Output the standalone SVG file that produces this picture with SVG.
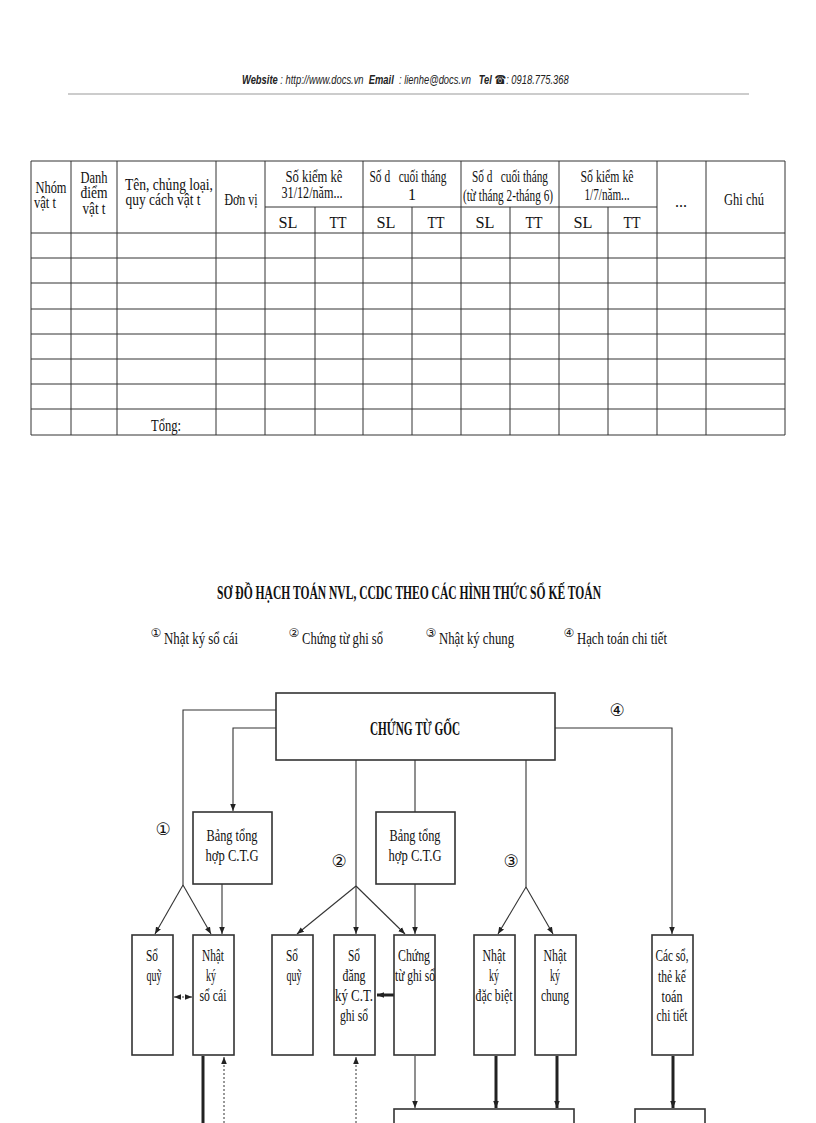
<svg xmlns="http://www.w3.org/2000/svg" width="816" height="1123" viewBox="0 0 816 1123">
<defs>
<style>
text{font-family:"Liberation Serif","DejaVu Serif",serif;fill:#111}
.hd{font-family:"Liberation Sans","DejaVu Sans",sans-serif;font-size:12.5px;font-style:italic;fill:#222}
.hb{font-weight:bold}
.t{font-size:16px;text-anchor:middle}
.b{font-size:17px;text-anchor:middle}
.num{font-family:"DejaVu Sans",sans-serif}
.grid line{stroke:#333;stroke-width:1}
.box{fill:#fff;stroke:#333;stroke-width:1.6}
.ln{fill:none;stroke:#333;stroke-width:1.1}
.thk{fill:none;stroke:#222;stroke-width:3}
.dot{fill:none;stroke:#333;stroke-width:1;stroke-dasharray:2,2}
</style>
<marker id="ah" viewBox="0 0 10 10" refX="10" refY="5" markerWidth="7" markerHeight="7" markerUnits="userSpaceOnUse" orient="auto-start-reverse"><path d="M0,1 L10,5 L0,9 z" fill="#222"/></marker>
</defs>

<g id="header">
<text class="hd" transform="translate(242,84) scale(0.75,1)" x="0" y="0" xml:space="preserve"><tspan class="hb">Website</tspan> : http://www.docs.vn  <tspan class="hb">Email</tspan>  : lienhe@docs.vn   <tspan class="hb">Tel </tspan><tspan class="hb" font-family="DejaVu Sans">☎</tspan>: 0918.775.368</text>
<line x1="68" y1="94" x2="749" y2="94" stroke="#999" stroke-width="1.2"/>
</g>

<g id="table">
<g class="grid">
<line x1="31" y1="161" x2="785" y2="161"/>
<line x1="265" y1="207" x2="657" y2="207"/>
<line x1="31" y1="233" x2="785" y2="233"/>
<line x1="31" y1="258" x2="785" y2="258"/>
<line x1="31" y1="283" x2="785" y2="283"/>
<line x1="31" y1="309" x2="785" y2="309"/>
<line x1="31" y1="334" x2="785" y2="334"/>
<line x1="31" y1="359" x2="785" y2="359"/>
<line x1="31" y1="384" x2="785" y2="384"/>
<line x1="31" y1="409" x2="785" y2="409"/>
<line x1="31" y1="435" x2="785" y2="435"/>
<line x1="31" y1="161" x2="31" y2="435"/>
<line x1="71" y1="161" x2="71" y2="435"/>
<line x1="117" y1="161" x2="117" y2="435"/>
<line x1="216" y1="161" x2="216" y2="435"/>
<line x1="265" y1="161" x2="265" y2="435"/>
<line x1="315" y1="207" x2="315" y2="435"/>
<line x1="363" y1="161" x2="363" y2="435"/>
<line x1="412" y1="207" x2="412" y2="435"/>
<line x1="461" y1="161" x2="461" y2="435"/>
<line x1="510" y1="207" x2="510" y2="435"/>
<line x1="559" y1="161" x2="559" y2="435"/>
<line x1="608" y1="207" x2="608" y2="435"/>
<line x1="657" y1="161" x2="657" y2="435"/>
<line x1="706" y1="161" x2="706" y2="435"/>
<line x1="785" y1="161" x2="785" y2="435"/>
</g>
<text class="t" x="51" y="193" textLength="31" lengthAdjust="spacingAndGlyphs">Nhóm</text>
<text class="t" x="45" y="208" textLength="22" lengthAdjust="spacingAndGlyphs">vật t</text>
<text class="t" x="94" y="183" textLength="27" lengthAdjust="spacingAndGlyphs">Danh</text>
<text class="t" x="94" y="198" textLength="27" lengthAdjust="spacingAndGlyphs">điểm</text>
<text class="t" x="94" y="214" textLength="23" lengthAdjust="spacingAndGlyphs">vật t</text>
<text class="t" x="169" y="190" textLength="88" lengthAdjust="spacingAndGlyphs">Tên, chủng loại,</text>
<text class="t" x="163" y="205" textLength="75" lengthAdjust="spacingAndGlyphs">quy cách vật t</text>
<text class="t" x="241" y="205" textLength="33" lengthAdjust="spacingAndGlyphs">Đơn vị</text>
<text class="t" x="314" y="182" textLength="57" lengthAdjust="spacingAndGlyphs">Số kiểm kê</text>
<text class="t" x="312" y="198" textLength="61" lengthAdjust="spacingAndGlyphs">31/12/năm...</text>
<text class="t" x="408" y="182" textLength="77" lengthAdjust="spacingAndGlyphs" xml:space="preserve">Số d   cuối tháng</text>
<text class="t" x="412" y="200">1</text>
<text class="t" x="510" y="182" textLength="76" lengthAdjust="spacingAndGlyphs" xml:space="preserve">Số d   cuối tháng</text>
<text class="t" x="508" y="201" font-size="14" textLength="90" lengthAdjust="spacingAndGlyphs">(từ tháng 2-tháng 6)</text>
<text class="t" x="607" y="182" textLength="53" lengthAdjust="spacingAndGlyphs">Số kiểm kê</text>
<text class="t" x="607" y="200" textLength="45" lengthAdjust="spacingAndGlyphs">1/7/năm...</text>
<text class="t" x="681" y="207">...</text>
<text class="t" x="744" y="205" textLength="40" lengthAdjust="spacingAndGlyphs">Ghi chú</text>
<text class="t" x="288" y="228" textLength="19" lengthAdjust="spacingAndGlyphs">SL</text>
<text class="t" x="338" y="228" textLength="17" lengthAdjust="spacingAndGlyphs">TT</text>
<text class="t" x="386" y="228" textLength="19" lengthAdjust="spacingAndGlyphs">SL</text>
<text class="t" x="436" y="228" textLength="17" lengthAdjust="spacingAndGlyphs">TT</text>
<text class="t" x="485" y="228" textLength="19" lengthAdjust="spacingAndGlyphs">SL</text>
<text class="t" x="534" y="228" textLength="17" lengthAdjust="spacingAndGlyphs">TT</text>
<text class="t" x="583" y="228" textLength="19" lengthAdjust="spacingAndGlyphs">SL</text>
<text class="t" x="632" y="228" textLength="17" lengthAdjust="spacingAndGlyphs">TT</text>
<text class="t" x="166" y="431" textLength="30" lengthAdjust="spacingAndGlyphs">Tổng:</text>
</g>

<g id="title">
<text x="409" y="599" font-size="18" font-weight="bold" text-anchor="middle" textLength="384" lengthAdjust="spacingAndGlyphs">SƠ ĐỒ HẠCH TOÁN NVL, CCDC THEO CÁC HÌNH THỨC SỔ KẾ TOÁN</text>
</g>

<g id="legend">
<text x="156" y="637" class="num" font-size="12" text-anchor="middle">①</text>
<text x="164" y="644" font-size="17" textLength="74" lengthAdjust="spacingAndGlyphs">Nhật ký sổ cái</text>
<text x="294" y="637" class="num" font-size="12" text-anchor="middle">②</text>
<text x="302" y="644" font-size="17" textLength="81" lengthAdjust="spacingAndGlyphs">Chứng từ ghi sổ</text>
<text x="431" y="637" class="num" font-size="12" text-anchor="middle">③</text>
<text x="439" y="644" font-size="17" textLength="75" lengthAdjust="spacingAndGlyphs">Nhật ký chung</text>
<text x="569" y="637" class="num" font-size="12" text-anchor="middle">④</text>
<text x="577" y="644" font-size="17" textLength="90" lengthAdjust="spacingAndGlyphs">Hạch toán chi tiết</text>
</g>

<g id="connectors">
<polyline class="ln" points="276,710 183,710 183,885"/>
<polyline class="ln" points="276,728 233,728 233,811" marker-end="url(#ah)"/>
<line class="ln" x1="356" y1="760" x2="356" y2="886"/>
<line class="ln" x1="415" y1="760" x2="415" y2="812"/>
<line class="ln" x1="526" y1="760" x2="526" y2="887"/>
<polyline class="ln" points="555,728 672,728 672,934" marker-end="url(#ah)"/>
<line class="ln" x1="183" y1="885" x2="155" y2="934" marker-end="url(#ah)"/>
<line class="ln" x1="183" y1="885" x2="211" y2="934" marker-end="url(#ah)"/>
<line class="ln" x1="222" y1="884" x2="222" y2="934" marker-end="url(#ah)"/>
<line class="ln" x1="356" y1="886" x2="297" y2="934" marker-end="url(#ah)"/>
<line class="ln" x1="356" y1="886" x2="356" y2="934" marker-end="url(#ah)"/>
<line class="ln" x1="356" y1="886" x2="405" y2="934" marker-end="url(#ah)"/>
<line class="ln" x1="415" y1="884" x2="415" y2="934" marker-end="url(#ah)"/>
<line class="ln" x1="526" y1="887" x2="498" y2="934" marker-end="url(#ah)"/>
<line class="ln" x1="526" y1="887" x2="553" y2="934" marker-end="url(#ah)"/>
<line class="dot" x1="174" y1="997" x2="192" y2="997" marker-start="url(#ah)" marker-end="url(#ah)"/>
<line class="thk" x1="394" y1="995" x2="377" y2="995" marker-end="url(#ah)"/>
<line class="thk" x1="203" y1="1056" x2="203" y2="1123"/>
<line class="dot" x1="224" y1="1123" x2="224" y2="1057" marker-end="url(#ah)"/>
<line class="dot" x1="356" y1="1123" x2="356" y2="1057" marker-end="url(#ah)"/>
<line class="ln" x1="415" y1="1056" x2="415" y2="1108" marker-end="url(#ah)"/>
<line class="thk" x1="496" y1="1056" x2="496" y2="1108" marker-end="url(#ah)"/>
<line class="thk" x1="557" y1="1056" x2="557" y2="1108" marker-end="url(#ah)"/>
<line class="thk" x1="673" y1="1056" x2="673" y2="1108" marker-end="url(#ah)"/>
</g>

<g id="n-goc"><rect class="box" x="276" y="693" width="279" height="67"/><text x="415" y="735" font-size="18" font-weight="bold" text-anchor="middle" textLength="90" lengthAdjust="spacingAndGlyphs">CHỨNG TỪ GỐC</text></g>
<g id="lbl1"><text x="163" y="835" class="num" font-size="17" text-anchor="middle">①</text></g>
<g id="lbl2"><text x="339" y="867" class="num" font-size="17" text-anchor="middle">②</text></g>
<g id="lbl3"><text x="511" y="867" class="num" font-size="17" text-anchor="middle">③</text></g>
<g id="lbl4"><text x="617" y="716" class="num" font-size="17" text-anchor="middle">④</text></g>
<g id="n-bang1"><rect class="box" x="193" y="812" width="79" height="72"/><text class="b" x="232" y="841" textLength="51" lengthAdjust="spacingAndGlyphs">Bảng tổng</text><text class="b" x="232" y="861" textLength="53" lengthAdjust="spacingAndGlyphs">hợp C.T.G</text></g>
<g id="n-bang2"><rect class="box" x="376" y="812" width="79" height="72"/><text class="b" x="415" y="841" textLength="51" lengthAdjust="spacingAndGlyphs">Bảng tổng</text><text class="b" x="415" y="861" textLength="53" lengthAdjust="spacingAndGlyphs">hợp C.T.G</text></g>
<g id="n-soquy1"><rect class="box" x="132" y="935" width="41" height="120"/><text class="b" x="152" y="961" textLength="12" lengthAdjust="spacingAndGlyphs">Sổ</text><text class="b" x="154" y="981" textLength="15" lengthAdjust="spacingAndGlyphs">quỹ</text></g>
<g id="n-nksc"><rect class="box" x="193" y="935" width="41" height="120"/><text class="b" x="213" y="961" textLength="22" lengthAdjust="spacingAndGlyphs">Nhật</text><text class="b" x="211" y="981" textLength="10" lengthAdjust="spacingAndGlyphs">ký</text><text class="b" x="213" y="1001" textLength="27" lengthAdjust="spacingAndGlyphs">sổ cái</text></g>
<g id="n-soquy2"><rect class="box" x="272" y="935" width="41" height="120"/><text class="b" x="292" y="961" textLength="12" lengthAdjust="spacingAndGlyphs">Sổ</text><text class="b" x="294" y="981" textLength="15" lengthAdjust="spacingAndGlyphs">quỹ</text></g>
<g id="n-sodk"><rect class="box" x="334" y="935" width="41" height="120"/><text class="b" x="354" y="961" textLength="12" lengthAdjust="spacingAndGlyphs">Sổ</text><text class="b" x="354" y="981" textLength="23" lengthAdjust="spacingAndGlyphs">đăng</text><text class="b" x="354" y="1001" textLength="38" lengthAdjust="spacingAndGlyphs">ký C.T.</text><text class="b" x="354" y="1021" textLength="28" lengthAdjust="spacingAndGlyphs">ghi sổ</text></g>
<g id="n-ctgs"><rect class="box" x="394" y="935" width="41" height="120"/><text class="b" x="414" y="961" textLength="32" lengthAdjust="spacingAndGlyphs">Chứng</text><text class="b" x="415" y="981" textLength="40" lengthAdjust="spacingAndGlyphs">từ ghi sổ</text></g>
<g id="n-nkdb"><rect class="box" x="474" y="935" width="41" height="120"/><text class="b" x="494" y="961" textLength="23" lengthAdjust="spacingAndGlyphs">Nhật</text><text class="b" x="494" y="981" textLength="10" lengthAdjust="spacingAndGlyphs">ký</text><text class="b" x="494" y="1001" textLength="37" lengthAdjust="spacingAndGlyphs">đặc biệt</text></g>
<g id="n-nkc"><rect class="box" x="535" y="935" width="41" height="120"/><text class="b" x="555" y="961" textLength="23" lengthAdjust="spacingAndGlyphs">Nhật</text><text class="b" x="555" y="981" textLength="10" lengthAdjust="spacingAndGlyphs">ký</text><text class="b" x="555" y="1001" textLength="28" lengthAdjust="spacingAndGlyphs">chung</text></g>
<g id="n-ct"><rect class="box" x="652" y="935" width="41" height="120"/><text class="b" x="672" y="961" textLength="33" lengthAdjust="spacingAndGlyphs">Các sổ,</text><text class="b" x="672" y="982" textLength="28" lengthAdjust="spacingAndGlyphs">thẻ kế</text><text class="b" x="672" y="1002" textLength="21" lengthAdjust="spacingAndGlyphs">toán</text><text class="b" x="672" y="1021" textLength="31" lengthAdjust="spacingAndGlyphs">chi tiết</text></g>
<g id="n-bottom1"><rect class="box" x="394" y="1109" width="180" height="30"/></g>
<g id="n-bottom2"><rect class="box" x="635" y="1109" width="70" height="30"/></g>
</svg>
